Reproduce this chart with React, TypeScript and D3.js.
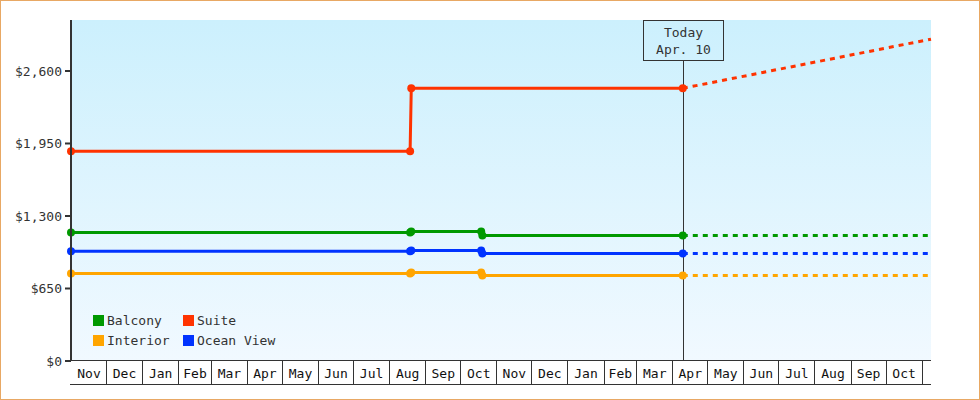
import React from "react";
import * as d3 from "d3";

const startDate = "2013-11-01";
const endDate = "2015-11-09";
const todayDate = "2015-04-10";

const seriesNames = ["Balcony", "Suite", "Interior", "Ocean View"];
const seriesColors = ["#009900", "#ff3300", "#ffa500", "#0033ff"];

const balconyDates = ["2013-11-01", "2014-08-19", "2014-08-20", "2014-10-19", "2014-10-20", "2015-04-10"];
const balconyValues = [1152, 1152, 1161, 1161, 1125, 1125];
const suiteDates = ["2013-11-01", "2014-08-19", "2014-08-20", "2015-04-10"];
const suiteValues = [1880, 1880, 2445, 2445];
const interiorDates = ["2013-11-01", "2014-08-19", "2014-08-20", "2014-10-19", "2014-10-20", "2015-04-10"];
const interiorValues = [785, 785, 793, 793, 766, 766];
const oceanDates = ["2013-11-01", "2014-08-19", "2014-08-20", "2014-10-19", "2014-10-20", "2015-04-10"];
const oceanValues = [984, 984, 991, 991, 964, 964];

// projections from today to end of range
const projectionDates = ["2015-04-10", "2015-11-09"];
const balconyProjection = [1125, 1125];
const suiteProjection = [2445, 2885];
const interiorProjection = [766, 766];
const oceanProjection = [964, 964];

const yTicks = [0, 650, 1300, 1950, 2600];
const yMax = 3057;
const todayLabel = ["Today", "Apr. 10"];

const W = 980;
const H = 400;
const left = 71;
const right = 931;
const top = 20;
const bottom = 361;
const FONT = "'DejaVu Sans Mono', 'Liberation Mono', monospace";

const parse = (s: string) => new Date(s + "T00:00:00Z");

export default function App() {
  const x = d3.scaleUtc().domain([parse(startDate), parse(endDate)]).range([left, right]);
  const y = d3.scaleLinear().domain([0, yMax]).range([bottom, top]);
  const fmt = d3.format("$,");

  const series = [
    { dates: balconyDates, values: balconyValues, proj: balconyProjection },
    { dates: suiteDates, values: suiteValues, proj: suiteProjection },
    { dates: interiorDates, values: interiorValues, proj: interiorProjection },
    { dates: oceanDates, values: oceanValues, proj: oceanProjection },
  ].map((s, i) => ({
    name: seriesNames[i],
    color: seriesColors[i],
    pts: s.dates.map((d, j) => ({ d: parse(d), v: s.values[j] })),
    proj: projectionDates.map((d, j) => ({ d: parse(d), v: s.proj[j] })),
  }));

  const line = d3
    .line<{ d: Date; v: number }>()
    .x((p) => x(p.d))
    .y((p) => y(p.v));

  const months = d3.utcMonth.range(parse(startDate), parse(endDate));
  const domainEnd = parse(endDate);
  const cells = months.map((m) => {
    const next = d3.utcMonth.offset(m, 1);
    const e = next > domainEnd ? domainEnd : next;
    return { start: x(m), end: x(e), label: d3.utcFormat("%b")(m) };
  });

  const tx = Math.round(x(parse(todayDate))) + 0.5;

  // draw order: series drawn back-to-front so Suite on top etc.
  const drawOrder = [2, 3, 0, 1];

  return (
    <svg
      width={W}
      height={H}
      style={{ position: "absolute", left: 0, top: 0, display: "block" }}
      fontFamily={FONT}
    >
      <defs>
        <linearGradient id="bg" x1="0" y1="0" x2="0" y2="1">
          <stop offset="0%" stopColor="#ccf0fd" />
          <stop offset="100%" stopColor="#f1f9ff" />
        </linearGradient>
      </defs>
      <rect x={0.5} y={0.5} width={W - 1} height={H - 1} fill="#ffffff" stroke="#e8a864" strokeWidth={1} />
      <rect x={left} y={top} width={right - left} height={bottom - top} fill="url(#bg)" />

      {/* today line */}
      <line x1={tx} x2={tx} y1={60} y2={bottom} stroke="#333" strokeWidth={1} />

      {/* projections */}
      {drawOrder.map((i) => (
        <path
          key={"p" + i}
          d={line(series[i].proj) || ""}
          fill="none"
          stroke={series[i].color}
          strokeWidth={3}
          strokeDasharray="5,5"
        />
      ))}
      {/* actual lines */}
      {drawOrder.map((i) => (
        <path key={"l" + i} d={line(series[i].pts) || ""} fill="none" stroke={series[i].color} strokeWidth={3} />
      ))}
      {/* markers */}
      {drawOrder.map((i) =>
        series[i].pts.map((p, j) => (
          <circle key={"c" + i + "-" + j} cx={x(p.d)} cy={y(p.v)} r={4} fill={series[i].color} />
        ))
      )}

      {/* y axis */}
      <line x1={left} x2={left} y1={top} y2={bottom} stroke="#333" strokeWidth={2} />
      {yTicks.map((t) => (
        <g key={t}>
          <line x1={65} x2={left} y1={y(t)} y2={y(t)} stroke="#333" strokeWidth={2} />
          <text x={62} y={y(t)} dy="0.35em" textAnchor="end" fontSize={13} fill="#333">
            {fmt(t)}
          </text>
        </g>
      ))}

      {/* x axis */}
      <line x1={70} x2={right} y1={360.5} y2={360.5} stroke="#333" strokeWidth={1} />
      <line x1={70} x2={right} y1={384.5} y2={384.5} stroke="#333" strokeWidth={1} />
      {cells.map((c, i) => (
        <g key={"m" + i}>
          {i > 0 && (
            <line
              x1={Math.round(c.start) + 0.5}
              x2={Math.round(c.start) + 0.5}
              y1={360}
              y2={385}
              stroke="#333"
              strokeWidth={1}
            />
          )}
          {c.end - c.start > 20 && (
            <text x={(c.start + c.end) / 2 + 0.5} y={378} textAnchor="middle" fontSize={13} fill="#111">
              {c.label}
            </text>
          )}
        </g>
      ))}

      {/* legend */}
      {series.map((s, i) => {
        const col = i % 2;
        const row = Math.floor(i / 2);
        const lx = col === 0 ? 93 : 183;
        const ly = 315 + row * 20;
        return (
          <g key={"lg" + i}>
            <rect x={lx} y={ly} width={11} height={11} fill={s.color} />
            <text x={lx + 14} y={ly + 10} fontSize={13} fill="#333">
              {s.name}
            </text>
          </g>
        );
      })}

      {/* today box */}
      <rect x={643.5} y={20.5} width={80} height={40} fill="none" stroke="#333" strokeWidth={1} />
      <text x={tx} y={37} textAnchor="middle" fontSize={13} fill="#333">
        {todayLabel[0]}
      </text>
      <text x={tx} y={54} textAnchor="middle" fontSize={13} fill="#333">
        {todayLabel[1]}
      </text>
    </svg>
  );
}
